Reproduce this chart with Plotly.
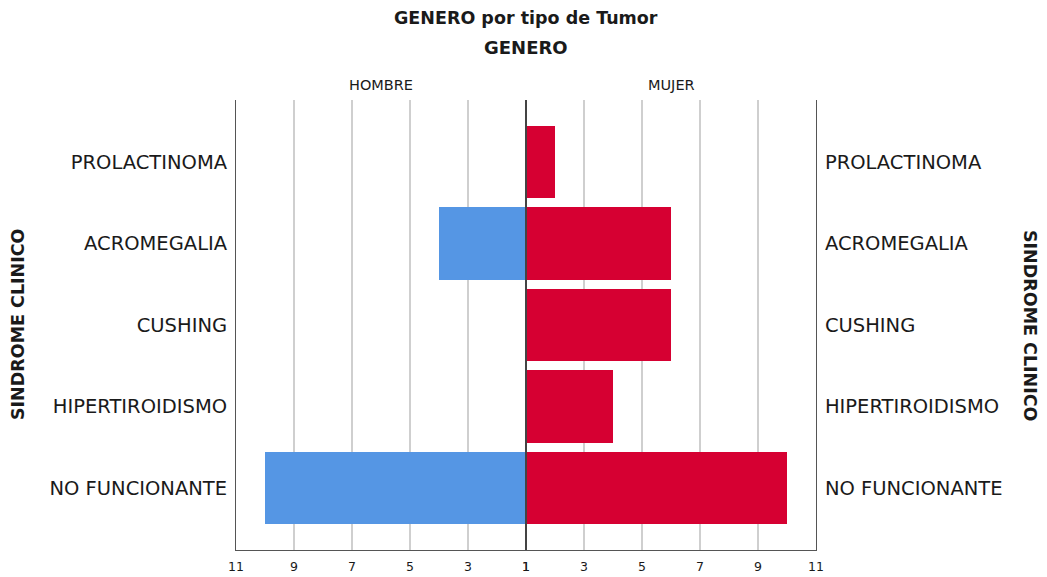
import plotly.graph_objects as go
from plotly.subplots import make_subplots

categorias = ['PROLACTINOMA', 'ACROMEGALIA', 'CUSHING', 'HIPERTIROIDISMO', 'NO FUNCIONANTE']
hombre = [0, 4, 0, 0, 10]
mujer = [2, 6, 6, 4, 10]
ticks = [1, 3, 5, 7, 9, 11]

FONT = 'DejaVu Sans'
AZUL = '#5596E4'
ROJO = '#D60032'
TXT = '#1a1a1a'

# la pagina html deja 8px de margen en el body
OFF = 8
L, R, T, B = 236 - OFF, 816 - OFF, 100 - OFF, 550 - OFF
W, H = 1047 - OFF, 577 - OFF

fig = make_subplots(rows=1, cols=2, horizontal_spacing=0)

fig.add_trace(
    go.Bar(x=hombre, y=categorias, orientation='h', marker={'color': AZUL, 'line': {'width': 0}},
           width=0.89, name='HOMBRE', showlegend=False),
    row=1, col=1,
)
fig.add_trace(
    go.Bar(x=mujer, y=categorias, orientation='h', marker={'color': ROJO, 'line': {'width': 0}},
           width=0.89, name='MUJER', showlegend=False),
    row=1, col=2,
)

xcommon = dict(
    tickvals=ticks,
    ticktext=[str(t) for t in ticks],
    showgrid=True,
    gridcolor='#cfcfcf',
    gridwidth=1.5,
    zeroline=False,
    showline=True,
    linecolor='#555555',
    linewidth=1,
    ticks='',
    ticklabelstandoff=5,
    tickfont={'family': FONT, 'size': 12.5, 'color': TXT},
    automargin=False,
)
fig.update_xaxes(range=[11, 1], **xcommon, row=1, col=1)
fig.update_xaxes(range=[1, 11], **xcommon, row=1, col=2)

ycommon = dict(
    categoryorder='array',
    categoryarray=categorias[::-1],
    range=[-0.76, 4.76],
    showgrid=False,
    zeroline=False,
    showline=True,
    linecolor='#555555',
    linewidth=1,
    ticks='',
    ticklabelstandoff=4,
    tickfont={'family': FONT, 'size': 19.5, 'color': TXT},
    automargin=False,
)
fig.update_yaxes(**ycommon, side='left', row=1, col=1)
fig.update_yaxes(**ycommon, side='right', showticklabels=True, row=1, col=2)

# linea central
fig.add_shape(type='line', xref='paper', yref='paper', x0=0.5, x1=0.5, y0=0, y1=1,
              line={'color': '#444444', 'width': 2})


def py(pix):
    """Pixel vertical de la captura -> coordenada paper."""
    return 1 + (T + OFF - pix) / (B - T)


def px_(pix):
    return (pix - OFF - L) / (R - L)


fig.add_annotation(text='<b>GENERO por tipo de Tumor</b>', x=0.5, y=py(18), font={'size': 17.5})
fig.add_annotation(text='<b>GENERO</b>', x=0.5, y=py(48))
fig.add_annotation(text='HOMBRE', x=0.25, y=py(85), font={'size': 14.5})
fig.add_annotation(text='MUJER', x=0.75, y=py(85), font={'size': 14.5})
fig.add_annotation(text='<b>SINDROME CLINICO</b>', x=px_(18), y=0.5, textangle=-90,
                   font={'size': 17.5})
fig.add_annotation(text='<b>SINDROME CLINICO</b>', x=px_(1030), y=0.5, textangle=90,
                   font={'size': 17.5})
fig.update_annotations(xref='paper', yref='paper', showarrow=False,
                       xanchor='center', yanchor='middle',
                       font_family=FONT, font_color=TXT)
fig.for_each_annotation(lambda a: a.update(font_size=18) if a.font.size is None else None)

fig.update_layout(
    width=W,
    height=H,
    margin={'l': L, 'r': W - R, 't': T, 'b': H - B, 'autoexpand': False},
    plot_bgcolor='white',
    paper_bgcolor='white',
    bargap=0,
)

fig.write_html('out.html')
